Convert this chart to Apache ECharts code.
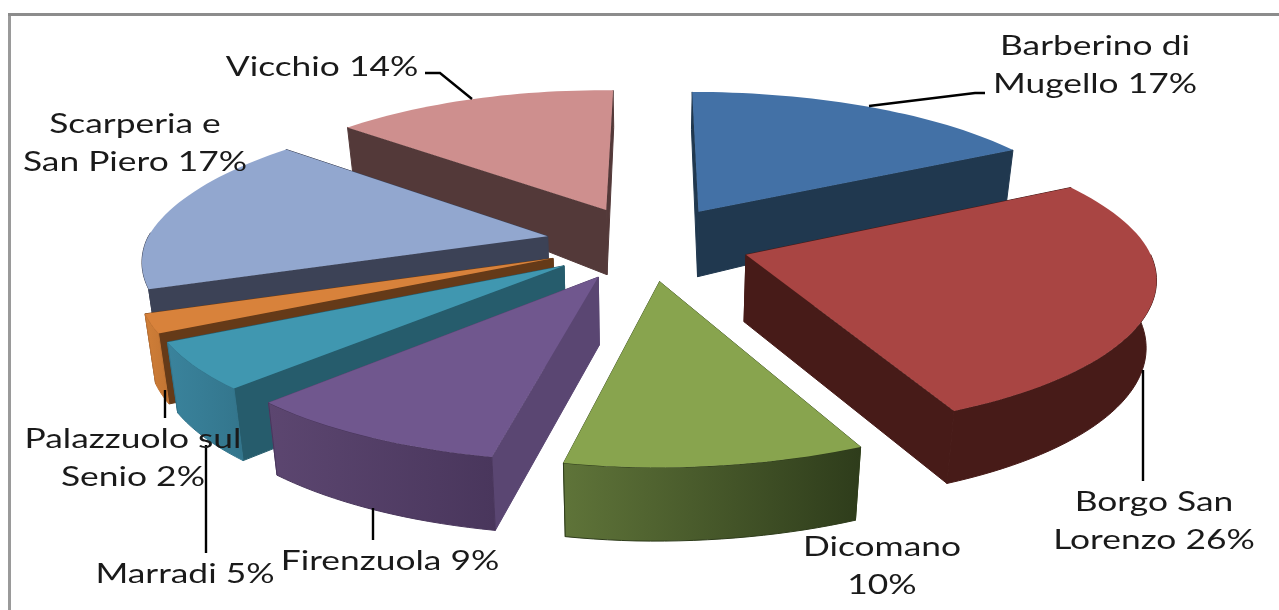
<!DOCTYPE html>
<html><head><meta charset="utf-8">
<style>html,body{margin:0;padding:0;background:#fff}#c{width:1279px;height:610px;filter:blur(0.5px)}</style>
<script src="https://cdn.jsdelivr.net/npm/echarts@6/dist/echarts.min.js"></script>
</head><body><div id="c"></div>
<script>
const categories = ['Barberino di\nMugello','Borgo San\nLorenzo','Dicomano','Firenzuola','Marradi','Palazzuolo sul\nSenio','Scarperia e\nSan Piero','Vicchio'];
const values = [17,26,10,9,5,2,17,14];

const topColors = ['#4371a6','#a94543','#88a44e','#70578e','#4097b0','#d8823b','#92a7cf','#ce8f8e'];
const cutColors = ['#20384f','#471b18','#4d6030','#5a4672','#265c6c','#653a18','#3c4256','#533939'];
const wallFrom  = ['#20384f','#471b18','#5f7439','#5c4670','#3a839c','#d07f38','#3c4256','#533939'];
const wallTo    = ['#20384f','#471b18','#2e3c1b','#49365c','#33758c','#c27433','#3c4256','#533939'];

const labelLayout = [
  {x:1095,y:65,sep:' ',line:[[869,106],[975,93],[985,93]]},
  {x:1154,y:521,sep:' ',line:[[1143,370],[1143,481]]},
  {x:882,y:566,sep:'\n',line:null},
  {x:390,y:561,sep:' ',line:[[373,508],[373,540]]},
  {x:185,y:574,sep:' ',line:[[206,445],[206,553]]},
  {x:133,y:458,sep:' ',line:[[165,390],[165,418]]},
  {x:135,y:143,sep:' ',line:null},
  {x:322,y:67,sep:' ',line:[[425,73],[440,73],[472,99]]}
];

const P = {cx:648,cy:243,A:400,B:146,k:0.147,kz:0.02,e:0.256};
const FONT = '27px Lato, sans-serif', SX = 1.31;

function depth(Y){ return Y<0.25 ? 64+(0.25-Y)*10 : 64-(Y-0.25)*30; }
function proj(X,Y,Z){
  const s = 1/(1+P.k*Y+P.kz*(1-Z));
  const d = depth(Y);
  let skewX = Y<0 ? Y*7 : 0;
  if(Y>0 && X<0) skewX = -Y*X*15;
  const skewY = X<0 ? X*3.5 : 0;
  return [P.cx+X*P.A*s+skewX, P.cy-Y*P.B*s+(1-Z)*d+skewY];
}
const total = values.reduce((a,b)=>a+b,0);
const slices=[]; let acc=0;
values.forEach(v=>{const a0=acc/total*Math.PI*2; acc+=v; const a1=acc/total*Math.PI*2;
  const m=(a0+a1)/2; slices.push({a0,a1,ox:Math.sin(m)*P.e,oy:Math.cos(m)*P.e});});
const order = slices.map((s,i)=>[s.oy,i]).sort((a,b)=>b[0]-a[0]).map(d=>d[1]);

function arc(sl,a0,a1,Z){
  const n=Math.max(2,Math.ceil((a1-a0)/0.03)),pts=[];
  for(let i=0;i<=n;i++){const a=a0+(a1-a0)*i/n;
    pts.push(proj(sl.ox+Math.sin(a),sl.oy+Math.cos(a),Z));}
  return pts;
}
function renderItem(params,api){
  const i=params.dataIndex, sl=slices[i], base=order.indexOf(i)*10, ch=[];
  const cut=a=>({Y:sl.oy+Math.cos(a)/2,pts:[proj(sl.ox,sl.oy,1),proj(sl.ox+Math.sin(a),sl.oy+Math.cos(a),1),
      proj(sl.ox+Math.sin(a),sl.oy+Math.cos(a),0),proj(sl.ox,sl.oy,0)]});
  [cut(sl.a0),cut(sl.a1)].sort((p,q)=>q.Y-p.Y).forEach((c,j)=>ch.push({type:'polygon',z2:base+j,
      shape:{points:c.pts},style:{fill:cutColors[i],stroke:cutColors[i],lineWidth:1},silent:true}));
  const b0=Math.max(sl.a0,Math.PI/2),b1=Math.min(sl.a1,Math.PI*1.5);
  if(b1>b0){
    const t=arc(sl,b0,b1,1),b=arc(sl,b0,b1,0).reverse();
    ch.push({type:'polygon',z2:base+3,shape:{points:t.concat(b)},silent:true,
      style:{fill:new echarts.graphic.LinearGradient(0,0,1,0,[
        {offset:0,color:wallFrom[i]},{offset:1,color:wallTo[i]}]),stroke:wallTo[i],lineWidth:1}});
  }
  ch.push({type:'polygon',z2:base+4,silent:true,
    shape:{points:[proj(sl.ox,sl.oy,1)].concat(arc(sl,sl.a0,sl.a1,1))},style:{fill:topColors[i]}});
  const L=labelLayout[i];
  ch.push({type:'text',z2:200,x:L.x,y:L.y,scaleX:SX,silent:true,
    style:{text:categories[i]+L.sep+api.value(1)+'%',font:FONT,fill:'#1a1a1a',align:'center',verticalAlign:'middle',lineHeight:38}});
  if(L.line) ch.push({type:'polyline',z2:150,silent:true,shape:{points:L.line},style:{stroke:'#000',lineWidth:2.4,fill:'none'}});
  return {type:'group',children:ch};
}
const chart=echarts.init(document.getElementById('c'),null,{renderer:'canvas'});
chart.setOption({
  animation:false,
  graphic:[
    {type:'line',silent:true,shape:{x1:9.5,y1:14,x2:9.5,y2:610},style:{stroke:'#9a9a9a',lineWidth:3}},
    {type:'line',silent:true,shape:{x1:8,y1:14.5,x2:1279,y2:14.5},style:{stroke:'#8c8c8c',lineWidth:3}}
  ],
  series:[{type:'custom',coordinateSystem:'none',renderItem,clip:false,
    data:values.map((v,i)=>[i,v])}]
});
</script></body></html>
